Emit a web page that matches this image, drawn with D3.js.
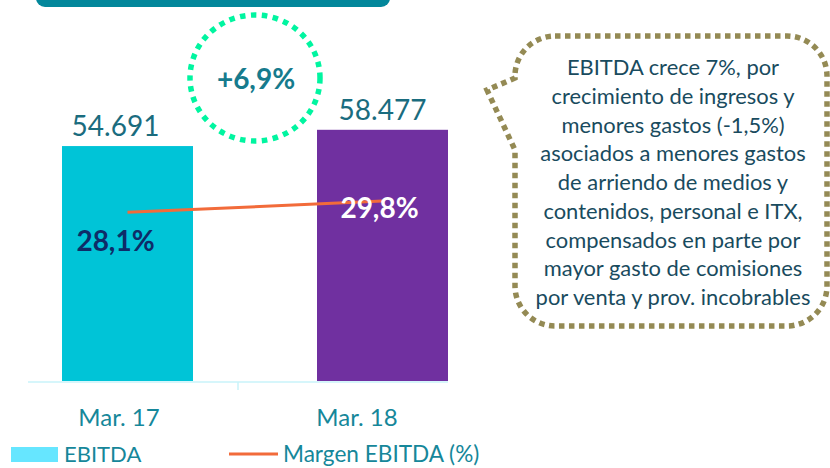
<!DOCTYPE html>
<html><head><meta charset="utf-8">
<script src="https://cdn.jsdelivr.net/npm/d3@7"></script>
<style>html,body{margin:0;padding:0;background:#fff;}svg{display:block;font-family:Lato,"Open Sans",sans-serif;}</style>
</head><body>
<script>
// ---- data ----
const categories = ["Mar. 17", "Mar. 18"];
const ebitda = [54691, 58477];
const ebitdaLabels = ["54.691", "58.477"];
const margin = [28.1, 29.8];
const marginLabels = ["28,1%", "29,8%"];
const growthLabel = "+6,9%";
const legendLabels = ["EBITDA", "Margen EBITDA (%)"];
const noteLines = [
  "EBITDA crece 7%, por",
  "crecimiento de ingresos y",
  "menores gastos (-1,5%)",
  "asociados a menores gastos",
  "de arriendo de medios y",
  "contenidos, personal e ITX,",
  "compensados en parte por",
  "mayor gasto de comisiones",
  "por venta y prov. incobrables"
];

const W = 830, H = 468;
const svg = d3.select("body").append("svg").attr("width", W).attr("height", H);

// top banner
svg.append("rect").attr("x", 36).attr("y", -12).attr("width", 354).attr("height", 19)
  .attr("rx", 9).attr("fill", "#03879B");

// scales
const x = d3.scaleBand().domain(categories).range([62, 448]).paddingInner(124/255).paddingOuter(0);
const xLab = d3.scaleBand().domain(categories).range([0, 476]);
const y = d3.scaleLinear().domain([0, 70000]).range([381, 80.3]);
const y2 = d3.scaleLinear().domain([0, 45]).range([399.1, 100]);

const barColors = ["#00C4D7", "#7030A0"];

// axis line
svg.append("line").attr("x1", 28).attr("x2", 448).attr("y1", 382).attr("y2", 382)
  .attr("stroke", "#C9F3FA").attr("stroke-width", 1.5);
svg.append("line").attr("x1", xLab.bandwidth()).attr("x2", xLab.bandwidth()).attr("y1", 382).attr("y2", 390)
  .attr("stroke", "#C9F3FA").attr("stroke-width", 1.5);

// bars
svg.selectAll("rect.bar").data(ebitda).enter().append("rect").attr("class", "bar")
  .attr("x", (d, i) => x(categories[i])).attr("width", x.bandwidth())
  .attr("y", d => y(d)).attr("height", d => y(0) - y(d))
  .attr("fill", (d, i) => barColors[i]);

// value labels
const labelDx = [-12, 0];
svg.selectAll("text.val").data(ebitda).enter().append("text").attr("class", "val")
  .attr("x", (d, i) => x(categories[i]) + x.bandwidth() / 2 + labelDx[i])
  .attr("y", d => y(d) - 10)
  .attr("text-anchor", "middle").attr("font-size", 28).attr("fill", "#1A6C7E")
  .text((d, i) => ebitdaLabels[i]);

// margin line
const line = d3.line().x((d, i) => x(categories[i]) + x.bandwidth() / 2).y(d => y2(d));
svg.append("path").datum(margin).attr("d", line).attr("fill", "none")
  .attr("stroke", "#F26B3A").attr("stroke-width", 3);

// margin labels
const mColors = ["#0E2C68", "#FFFFFF"];
const mDy = [39, 17];
const mDx = [-12, -3];
svg.selectAll("text.m").data(margin).enter().append("text").attr("class", "m")
  .attr("x", (d, i) => x(categories[i]) + x.bandwidth() / 2 + mDx[i])
  .attr("y", (d, i) => y2(d) + mDy[i])
  .attr("text-anchor", "middle").attr("font-size", 28).attr("font-weight", 700)
  .attr("fill", (d, i) => mColors[i]).text((d, i) => marginLabels[i]);

// category labels
svg.selectAll("text.cat").data(categories).enter().append("text").attr("class", "cat")
  .attr("x", d => xLab(d) + xLab.bandwidth() / 2).attr("y", 426)
  .attr("text-anchor", "middle").attr("font-size", 24).attr("fill", "#16879A")
  .text(d => d);

// growth circle
svg.append("ellipse").attr("cx", 255).attr("cy", 78).attr("rx", 65).attr("ry", 63)
  .attr("fill", "none").attr("stroke", "#00F5A0").attr("stroke-width", 5.5)
  .attr("stroke-dasharray", "5.5,5.5");
svg.append("text").attr("x", 256).attr("y", 89).attr("text-anchor", "middle")
  .attr("font-size", 28).attr("font-weight", 700).attr("fill", "#167B8D").text(growthLabel);

// callout
const cp = d3.path();
cp.moveTo(555, 36); cp.lineTo(787, 36);
cp.arcTo(827, 36, 827, 76, 40); cp.lineTo(827, 286);
cp.arcTo(827, 326, 787, 326, 40); cp.lineTo(555, 326);
cp.arcTo(515, 326, 515, 286, 40); cp.lineTo(515, 150);
cp.lineTo(487, 90); cp.lineTo(515, 78);
cp.arcTo(515, 36, 555, 36, 40); cp.closePath();
svg.append("path").attr("d", cp.toString()).attr("fill", "none")
  .attr("stroke", "#948A54").attr("stroke-width", 5.5).attr("stroke-dasharray", "5.5,4.5");
svg.append("g").selectAll("text").data(noteLines).enter().append("text")
  .attr("x", 673).attr("y", (d, i) => 75 + i * 28.75)
  .attr("text-anchor", "middle").attr("font-size", 21.9).attr("fill", "#194B5E")
  .text(d => d);

// legend
svg.append("rect").attr("x", 11).attr("y", 447).attr("width", 47).attr("height", 15).attr("fill", "#66E6FF");
svg.append("text").attr("x", 64).attr("y", 462).attr("font-size", 22).attr("fill", "#16879A").text(legendLabels[0]);
svg.append("line").attr("x1", 229).attr("x2", 278).attr("y1", 454).attr("y2", 454)
  .attr("stroke", "#F26B3A").attr("stroke-width", 3);
svg.append("text").attr("x", 283).attr("y", 462).attr("font-size", 22.6).attr("fill", "#16879A").text(legendLabels[1]);
</script>
</body></html>
